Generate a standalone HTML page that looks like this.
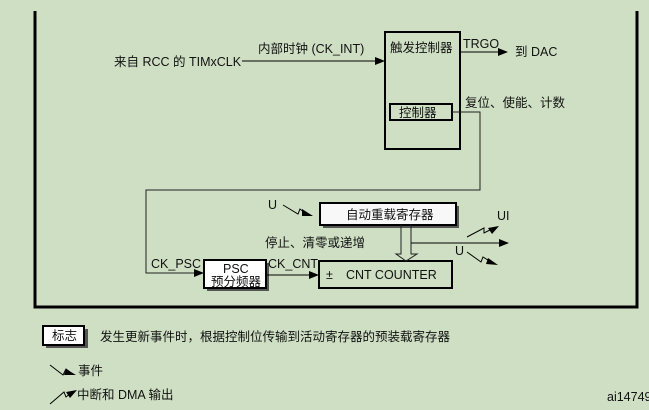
<!DOCTYPE html>
<html><head><meta charset="utf-8"><style>
html,body{margin:0;padding:0;background:#cfdfc4;}
svg{display:block;font-family:"Liberation Sans","Noto Sans CJK SC",sans-serif;}
text{fill:#111;font-size:12.5px;}
</style></head><body>
<svg width="649" height="410" viewBox="0 0 649 410" xmlns="http://www.w3.org/2000/svg">
<defs>
<marker id="ah" markerWidth="10" markerHeight="8" refX="9" refY="4" orient="auto" markerUnits="userSpaceOnUse"><path d="M0,0 L10,4 L0,8 z" fill="#000"/></marker>
</defs>
<rect width="649" height="410" fill="#cfdfc4"/>
<path d="M35,11 V307 H637 V11" fill="none" stroke="#000" stroke-width="3"/>

<text x="114" y="66">来自 RCC 的 TIMxCLK</text>
<text x="258" y="53">内部时钟 (CK_INT)</text>
<line x1="242" y1="61" x2="384" y2="61" stroke="#000" stroke-width="1" marker-end="url(#ah)"/>

<rect x="385" y="32" width="75" height="117" fill="none" stroke="#000" stroke-width="2"/>
<text x="390" y="52">触发控制器</text>
<rect x="390" y="104" width="62" height="16" fill="none" stroke="#000" stroke-width="2"/>
<text x="399" y="117">控制器</text>
<text x="463" y="48">TRGO</text>
<line x1="460" y1="52" x2="507" y2="52" stroke="#000" stroke-width="1" marker-end="url(#ah)"/>
<text x="515" y="56">到 DAC</text>
<text x="465" y="107">复位、使能、计数</text>

<path d="M452,112 H480 V190 H146 V273 H203" fill="none" stroke="#222" stroke-width="1" marker-end="url(#ah)"/>
<text x="151" y="268">CK_PSC</text>

<rect x="207" y="263" width="62" height="28" fill="#555"/>
<rect x="204" y="260" width="62" height="28" fill="#fff" stroke="#000" stroke-width="2"/>
<text x="223" y="273">PSC</text>
<text x="211" y="286">预分频器</text>
<text x="268" y="268">CK_CNT</text>
<line x1="266" y1="275" x2="318" y2="275" stroke="#000" stroke-width="1" marker-end="url(#ah)"/>

<rect x="319" y="261" width="133" height="27" fill="none" stroke="#000" stroke-width="2"/>
<text x="326" y="279">±</text>
<text x="346" y="279" font-size="13">CNT COUNTER</text>

<rect x="323" y="206" width="136" height="22" fill="#555"/>
<rect x="320" y="203" width="136" height="22" fill="#f8f8f8" stroke="#000" stroke-width="2"/>
<text x="346" y="219">自动重载寄存器</text>

<text x="268" y="209">U</text>
<path d="M283,205 L298,214 L300,209 L305,213" fill="none" stroke="#000" stroke-width="1"/>
<path d="M302,209 L313,216 L302,216 z" fill="#000"/>

<text x="265" y="247">停止、清零或递增</text>

<path d="M401,225 V254 H396 L406,261 L417,254 H411 V225" fill="none" stroke="#222" stroke-width="1"/>
<line x1="411" y1="243" x2="508" y2="243" stroke="#000" stroke-width="1" marker-end="url(#ah)"/>
<text x="497" y="220">UI</text>
<path d="M467,237 L484,228 L484,233 L492,229" fill="none" stroke="#000" stroke-width="1"/>
<path d="M488,228 L499,226 L492,234 z" fill="#000"/>
<text x="455" y="255">U</text>
<path d="M467,252 L481,262 L483,257 L491,262" fill="none" stroke="#000" stroke-width="1"/>
<path d="M488,258 L498,265 L486,264 z" fill="#000"/>

<rect x="46" y="329" width="42" height="19" fill="#555"/>
<rect x="43" y="326" width="41" height="19" fill="#fff" stroke="#000" stroke-width="2"/>
<text x="52" y="340">标志</text>
<text x="100" y="341">发生更新事件时，根据控制位传输到活动寄存器的预装载寄存器</text>
<path d="M50,365 L63,375 L66,369 L70,372" fill="none" stroke="#000" stroke-width="1"/>
<path d="M66,369 L76,375 L64,375 z" fill="#000"/>
<text x="78" y="375">事件</text>
<path d="M50,404 L64,392 L66,397 L71,393" fill="none" stroke="#000" stroke-width="1"/>
<path d="M66,392 L77,390 L70,398 z" fill="#000"/>
<text x="77" y="399">中断和 DMA 输出</text>
<text x="607" y="401" font-size="10">ai14749</text>
</svg>
</body></html>
